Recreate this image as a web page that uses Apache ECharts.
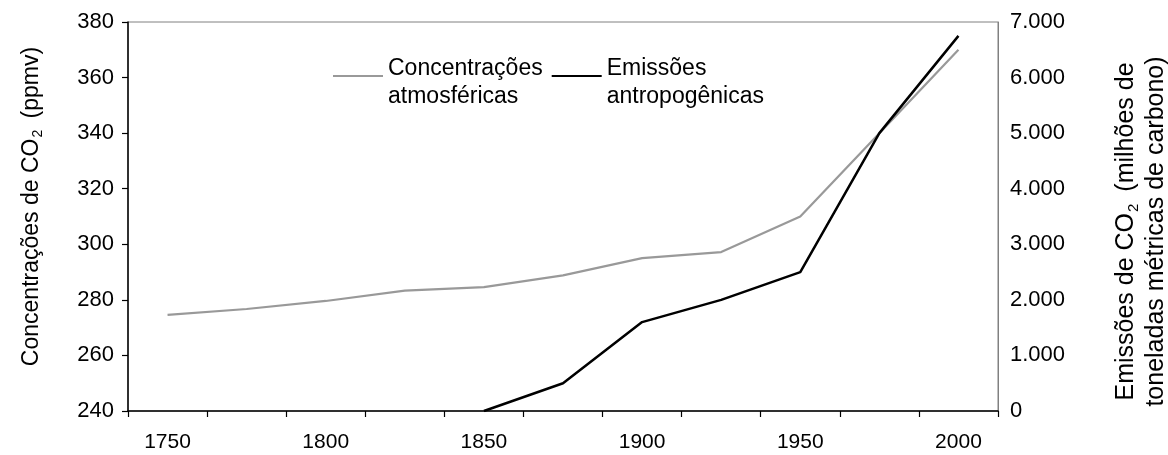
<!DOCTYPE html>
<html>
<head>
<meta charset="utf-8">
<script src="https://cdn.jsdelivr.net/npm/echarts@6/dist/echarts.min.js"></script>
<style>
html,body{margin:0;padding:0;background:#fff;}
#chart{width:1168px;height:455px;}
</style>
</head>
<body>
<div id="chart"></div>
<script>
const years = ['1750','1775','1800','1825','1850','1875','1900','1925','1950','1975','2000'];
const concentracoes = [274.6, 276.7, 279.6, 283.3, 284.6, 288.8, 295.0, 297.2, 310.0, 340.0, 370.0];
const emissoes = [null, null, null, null, 0, 500, 1600, 2000, 2500, 5000, 6750];
const leftTicks = {min: 240, max: 380, interval: 20};
const rightTicks = {min: 0, max: 7000, interval: 1000};
const seriesNames = ['Concentrações\natmosféricas', 'Emissões\nantropogênicas'];

const FONT = '"Liberation Sans", Arial, sans-serif';
const chart = echarts.init(document.getElementById('chart'), null, {renderer: 'canvas'});

function fmtThousands(v) {
  return String(v).replace(/\B(?=(\d{3})+(?!\d))/g, '.');
}

const legendIcon = 'path://M0,0L50,0L50,2L0,2Z M0,15.9L0.1,15.9L0.1,16L0,16Z';

const option = {
  backgroundColor: '#ffffff',
  animation: false,
  textStyle: {fontFamily: FONT},
  grid: {
    left: 128, right: 170, top: 22, bottom: 44,
    containLabel: false,
    outerBoundsMode: 'none',
    show: true, borderColor: '#808080', borderWidth: 1
  },
  legend: {
    left: 333, top: 55, padding: 0,
    itemGap: 9, itemWidth: 50, itemHeight: 16,
    icon: legendIcon,
    textStyle: {fontFamily: FONT, fontSize: 23, color: '#000', lineHeight: 28},
    data: [
      {name: seriesNames[0], itemStyle: {color: '#999999'}},
      {name: seriesNames[1], itemStyle: {color: '#000000'}}
    ]
  },
  xAxis: {
    type: 'category',
    data: years,
    boundaryGap: true,
    axisLine: {lineStyle: {color: '#000', width: 1.5}},
    axisTick: {show: true, interval: 0, length: 6, inside: false, lineStyle: {color: '#000', width: 1.2}},
    axisLabel: {interval: 1, margin: 21, fontFamily: FONT, fontSize: 21, color: '#000'},
    splitLine: {show: false}
  },
  yAxis: [
    {
      type: 'value',
      position: 'left',
      min: leftTicks.min, max: leftTicks.max, interval: leftTicks.interval,
      axisLine: {show: true, lineStyle: {color: '#000', width: 1.5}},
      axisTick: {show: true, length: 6, lineStyle: {color: '#000', width: 1.2}},
      axisLabel: {margin: 14, fontFamily: FONT, fontSize: 22, color: '#000'},
      splitLine: {show: false},
      name: '{a|Concentrações de CO}{s|2}{a| (ppmv)}',
      nameLocation: 'middle',
      nameRotate: 90,
      nameGap: 83,
      nameTextStyle: {
        padding: [0, 0, 0, 20],
        rich: {
          a: {fontFamily: FONT, fontSize: 23, color: '#000', lineHeight: 27},
          s: {fontFamily: FONT, fontSize: 14, color: '#000', lineHeight: 27, verticalAlign: 'bottom', padding: [0, 5, 0, 1]}
        }
      }
    },
    {
      type: 'value',
      position: 'right',
      min: rightTicks.min, max: rightTicks.max, interval: rightTicks.interval,
      axisLine: {show: true, lineStyle: {color: '#808080', width: 1}},
      axisTick: {show: false},
      axisLabel: {margin: 12, fontFamily: FONT, fontSize: 22, color: '#000', formatter: fmtThousands},
      splitLine: {show: false},
      name: '{a|Emissões de CO}{s|2}{a| (milhões de}\n{a|toneladas métricas de carbono)}',
      nameLocation: 'middle',
      nameRotate: 90,
      nameGap: 113,
      nameTextStyle: {
        padding: [0, 30, 0, 0],
        rich: {
          a: {fontFamily: FONT, fontSize: 25, color: '#000', lineHeight: 30},
          s: {fontFamily: FONT, fontSize: 15, color: '#000', lineHeight: 30, verticalAlign: 'bottom', padding: [0, 5, 0, 1]}
        }
      }
    }
  ],
  series: [
    {
      name: seriesNames[0],
      type: 'line',
      yAxisIndex: 0,
      data: concentracoes,
      symbol: 'none',
      lineStyle: {color: '#999999', width: 2.2},
      itemStyle: {color: '#999999'},
      z: 2
    },
    {
      name: seriesNames[1],
      type: 'line',
      yAxisIndex: 1,
      data: emissoes,
      symbol: 'none',
      lineStyle: {color: '#000000', width: 2.5},
      itemStyle: {color: '#000000'},
      z: 3
    }
  ]
};
chart.setOption(option);
</script>
</body>
</html>
